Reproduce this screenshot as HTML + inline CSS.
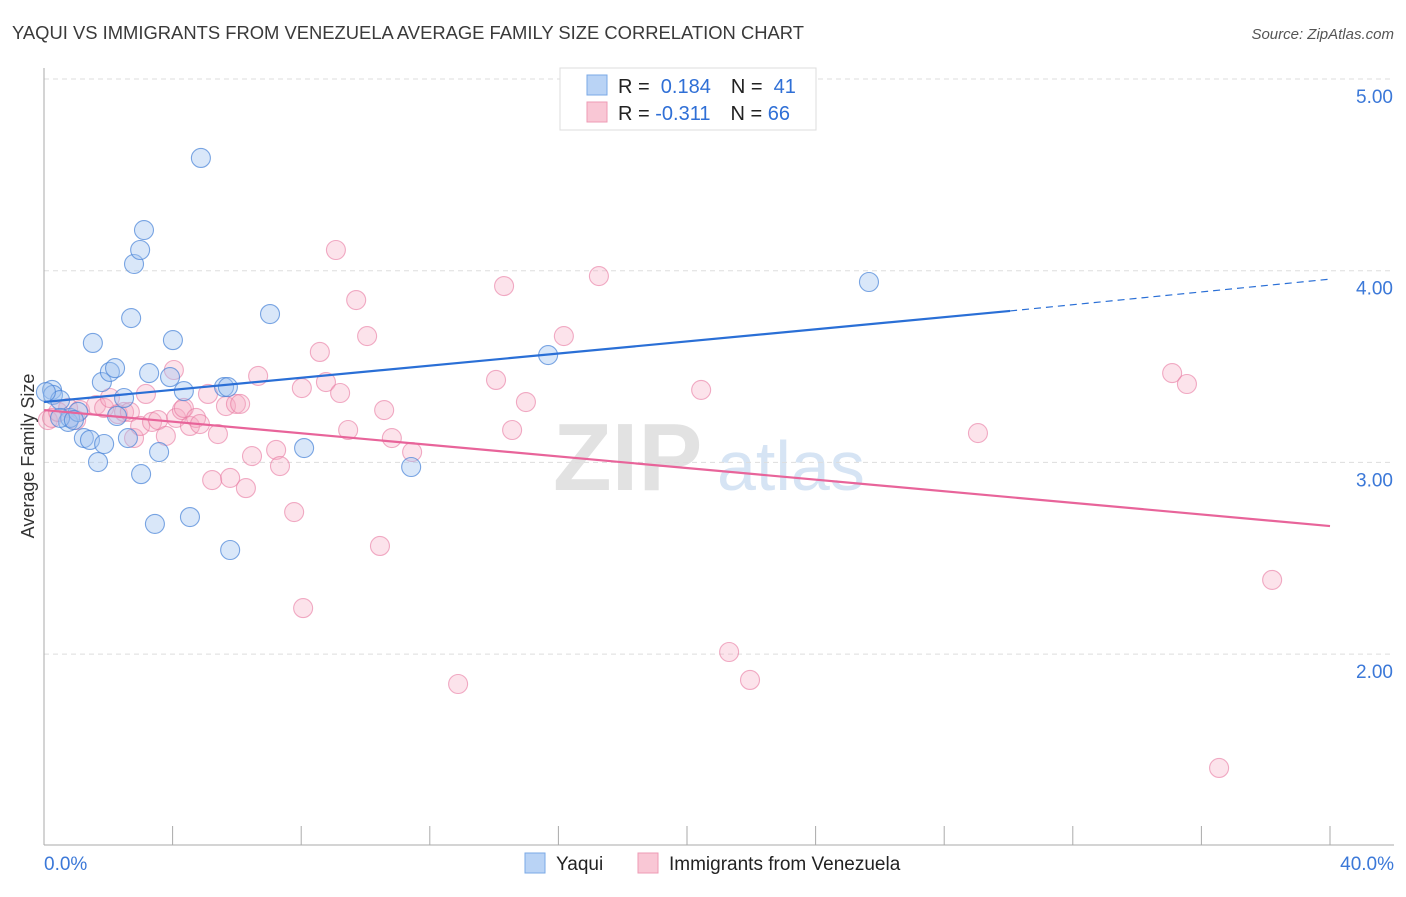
<!DOCTYPE html>
<html><head><meta charset="utf-8"><style>
body{margin:0;background:#fff;font-family:"Liberation Sans",sans-serif}
svg text{font-family:"Liberation Sans",sans-serif}
</style></head><body>
<svg id="chart" width="1406" height="892" xmlns="http://www.w3.org/2000/svg">
<text x="12" y="39" font-size="18.4" fill="#3a3a3a">YAQUI VS IMMIGRANTS FROM VENEZUELA AVERAGE FAMILY SIZE CORRELATION CHART</text>
<text x="1394" y="39" font-size="15" fill="#555" text-anchor="end" font-style="italic">Source: ZipAtlas.com</text>
<g>
<text x="553" y="490" font-size="96" fill="#e2e2e2" font-family="Liberation Serif" font-weight="bold">ZIP</text>
<text x="717" y="490" font-size="70" fill="#d6e4f4">atlas</text>
</g>
<g id="grid"></g>
<g id="axes"></g>
<g id="pts"></g>
<g id="trends"></g>
<text transform="translate(34,456) rotate(-90)" font-size="18" fill="#333" text-anchor="middle">Average Family Size</text>
<g>
<rect x="560" y="68" width="256" height="62" fill="#fff" stroke="#ddd"/>
<rect x="587" y="75" width="20" height="20" fill="#b9d3f5" stroke="#7aa8e6"/>
<rect x="587" y="102" width="20" height="20" fill="#f9c7d5" stroke="#ee9bb5"/>
<text x="618" y="93" font-size="20" fill="#222">R = <tspan fill="#2f6fd6">&#160;0.184</tspan><tspan dx="20">N = </tspan><tspan fill="#2f6fd6">&#160;41</tspan></text>
<text x="618" y="120" font-size="20" fill="#222">R = <tspan fill="#2f6fd6">-0.311</tspan><tspan dx="20">N = </tspan><tspan fill="#2f6fd6">66</tspan></text>
</g>
<g>
<rect x="525" y="853" width="20" height="20" fill="#b9d3f5" stroke="#7aa8e6"/>
<text x="556" y="870" font-size="19" fill="#222">Yaqui</text>
<rect x="638" y="853" width="20" height="20" fill="#f9c7d5" stroke="#ee9bb5"/>
<text x="669" y="870" font-size="19" fill="#222">Immigrants from Venezuela</text>
</g>
</svg>
<script>
const yTicks=[2,3,4,5];
const yTickLabels=["2.00","3.00","4.00","5.00"];
const xTickCount=10;
const xLabels=["0.0%","40.0%"];
const yaquiX=[0.25,0.28,0.50,0.75,0.81,1.06,1.24,1.43,1.52,1.68,1.80,1.87,2.05,2.21,2.27,2.49,2.61,2.71,2.80,2.99,3.02,3.11,3.27,3.45,3.58,3.92,4.01,4.35,4.54,4.88,5.60,5.72,5.79,7.03,8.09,11.42,15.68,25.66,0.50,0.06,0.93];
const yaquiY=[3.378,3.352,3.325,3.211,3.232,3.263,3.127,3.117,3.623,3.002,3.419,3.096,3.472,3.492,3.242,3.336,3.127,3.753,4.035,4.108,2.939,4.212,3.466,2.679,3.054,3.445,3.638,3.372,2.715,4.588,3.393,3.393,2.543,3.774,3.075,2.976,3.560,3.941,3.232,3.367,3.221];
const venX=[0.12,0.25,0.44,0.75,1.00,1.12,1.62,1.87,2.05,2.30,2.49,2.67,2.80,2.99,3.17,3.36,3.55,3.79,4.04,4.11,4.29,4.35,4.54,4.73,4.85,5.10,5.23,5.41,5.66,5.79,5.97,6.10,6.28,6.47,6.66,7.22,7.34,7.78,8.02,8.06,8.58,8.77,9.08,9.21,9.46,9.71,10.05,10.45,10.58,10.82,11.45,12.88,14.06,14.31,14.56,14.99,16.17,17.26,20.44,21.31,21.96,29.05,35.09,35.55,38.20,36.55];
const venY=[3.221,3.232,3.263,3.284,3.221,3.273,3.299,3.284,3.336,3.252,3.263,3.263,3.127,3.190,3.357,3.211,3.221,3.138,3.482,3.232,3.273,3.284,3.190,3.232,3.200,3.357,2.908,3.148,3.294,2.919,3.305,3.305,2.866,3.033,3.451,3.065,2.981,2.741,3.388,2.240,3.576,3.419,4.108,3.362,3.169,3.847,3.659,2.564,3.273,3.127,3.054,1.844,3.430,3.920,3.169,3.315,3.659,3.972,3.378,2.011,1.865,3.153,3.466,3.409,2.387,1.406];
const yaquiTrend=[3.315,3.790,3.956];
const yaquiTrendX=[0,30.05,40];
const venTrend=[3.273,2.668];
const venTrendX=[0,40];

const NS="http://www.w3.org/2000/svg";
const X=v=>44+v/40*1286;
const Y=v=>79+(5-v)*191.7;
function mk(tag,attrs,parent){const e=document.createElementNS(NS,tag);for(const k in attrs)e.setAttribute(k,attrs[k]);parent.appendChild(e);return e;}
const grid=document.getElementById('grid'),axes=document.getElementById('axes'),pts=document.getElementById('pts'),tr=document.getElementById('trends');
yTicks.forEach((t,i)=>{
  const l=mk('line',{x1:44,x2:1394,y1:Y(t),y2:Y(t),stroke:'#ddd','stroke-dasharray':'5,4'},grid);
  
  
  const tx=mk('text',{x:1393,y:Y(t)+24,'font-size':19,fill:'#3b78d8','text-anchor':'end'},axes);
  tx.textContent=yTickLabels[i];
  
  
});
mk('line',{x1:44,x2:44,y1:68,y2:845,stroke:'#aaa'},axes);
mk('line',{x1:44,x2:1394,y1:845,y2:845,stroke:'#aaa'},axes);
for(let i=0;i<=xTickCount;i++){
  const t=mk('line',{x1:X(i*4),x2:X(i*4),y1:826,y2:845,stroke:'#aaa'},axes);
  
  
}
const xl0=mk('text',{x:44,y:870,'font-size':19,fill:'#3b78d8'},axes);xl0.textContent=xLabels[0];


const xl1=mk('text',{x:1394,y:870,'font-size':19,fill:'#3b78d8','text-anchor':'end'},axes);xl1.textContent=xLabels[1];


venX.forEach((x,i)=>{
  const c=mk('circle',{cx:X(x),cy:Y(venY[i]),r:9.5,fill:'rgba(247,170,195,0.33)',stroke:'rgba(232,120,160,0.6)','stroke-width':1.1},pts);
  
  
});
yaquiX.forEach((x,i)=>{
  const c=mk('circle',{cx:X(x),cy:Y(yaquiY[i]),r:9.5,fill:'rgba(160,196,240,0.4)',stroke:'rgba(70,130,215,0.7)','stroke-width':1.1},pts);
  
  
});
const b1=mk('line',{x1:X(yaquiTrendX[0]),y1:Y(yaquiTrend[0]),x2:X(yaquiTrendX[1]),y2:Y(yaquiTrend[1]),stroke:'#2a6fd6','stroke-width':2.2},tr);


const b2=mk('line',{x1:X(yaquiTrendX[1]),y1:Y(yaquiTrend[1]),x2:X(yaquiTrendX[2]),y2:Y(yaquiTrend[2]),stroke:'#2a6fd6','stroke-width':1.2,'stroke-dasharray':'7,5'},tr);


const p1=mk('line',{x1:X(venTrendX[0]),y1:Y(venTrend[0]),x2:X(venTrendX[1]),y2:Y(venTrend[1]),stroke:'#e8649a','stroke-width':2.2},tr);


</script>
</body></html>
